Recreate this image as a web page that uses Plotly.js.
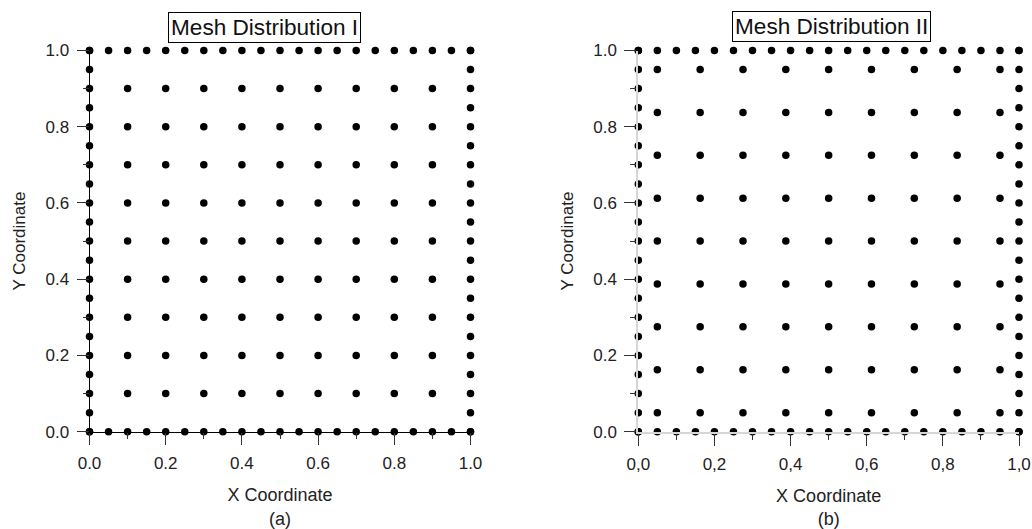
<!DOCTYPE html>
<html>
<head>
<meta charset="utf-8">
<script src="https://cdn.plot.ly/plotly-3.0.1.min.js"></script>
<style>html,body{margin:0;padding:0;background:#fff;}#chart{width:1032px;height:529px;}</style>
</head>
<body>
<div id="chart"></div>
<script>
// Boundary node coordinates (same on every side, both meshes)
const boundaryCoords = [0, 0.05, 0.1, 0.15, 0.2, 0.25, 0.3, 0.35, 0.4, 0.45, 0.5, 0.55, 0.6, 0.65, 0.7, 0.75, 0.8, 0.85, 0.9, 0.95, 1.0];
// Interior node coordinates, Mesh I
const interiorA = [0.1, 0.2, 0.3, 0.4, 0.5, 0.6, 0.7, 0.8, 0.9];
// Interior node coordinates, Mesh II
const interiorB = [0.05, 0.1625, 0.275, 0.3875, 0.5, 0.6125, 0.725, 0.8375, 0.95];
// Tick labels
const tickVals = [0, 0.2, 0.4, 0.6, 0.8, 1.0];
const minorTickVals = [0.1, 0.3, 0.5, 0.7, 0.9];
const tickTextDot = ['0.0', '0.2', '0.4', '0.6', '0.8', '1.0'];
const tickTextComma = ['0,0', '0,2', '0,4', '0,6', '0,8', '1,0'];
const titles = ['Mesh Distribution I', 'Mesh Distribution II'];
const xTitles = ['X Coordinate<br>(a)', 'X Coordinate<br>(b)'];
const yTitle = 'Y Coordinate';

function meshPoints(interior) {
  const xs = [], ys = [];
  boundaryCoords.forEach(v => {
    xs.push(v); ys.push(0);
    xs.push(v); ys.push(1);
    xs.push(0); ys.push(v);
    xs.push(1); ys.push(v);
  });
  interior.forEach(xv => interior.forEach(yv => { xs.push(xv); ys.push(yv); }));
  return {xs, ys};
}

const mA = meshPoints(interiorA);
const mB = meshPoints(interiorB);
const marker = {color: '#000', size: 7.5};
const data = [
  {type: 'scatter', mode: 'markers', x: mA.xs, y: mA.ys, xaxis: 'x', yaxis: 'y', marker, cliponaxis: false, hoverinfo: 'x+y'},
  {type: 'scatter', mode: 'markers', x: mB.xs, y: mB.ys, xaxis: 'x2', yaxis: 'y2', marker, cliponaxis: false, hoverinfo: 'x+y'}
];

const FONT = 'Arial, "Liberation Sans", sans-serif';
function axis(opts) {
  return Object.assign({
    range: [0, 1], showgrid: false, zeroline: false, showline: true,
    linecolor: '#000', linewidth: 1, ticks: 'outside', ticklen: 12, tickwidth: 1,
    tickcolor: '#333', tickvals: tickVals, ticktext: tickTextDot,
    tickfont: {family: FONT, size: 17, color: '#222'},
    ticklabelstandoff: 4,
    minor: {tickvals: minorTickVals, ticks: 'outside', ticklen: 6, tickwidth: 1, tickcolor: '#333', showgrid: false},
    fixedrange: true
  }, opts);
}

const yDom = [(529 - 431.7) / 529, (529 - 50.5) / 529];
const layout = {
  width: 1032, height: 529,
  margin: {l: 0, r: 0, t: 0, b: 0},
  paper_bgcolor: '#fff', plot_bgcolor: '#fff',
  showlegend: false,
  font: {family: FONT, color: '#222'},
  xaxis: axis({domain: [89.5 / 1032, 470.5 / 1032], anchor: 'y',
    title: {text: xTitles[0], font: {family: FONT, size: 18, color: '#222'}, standoff: 16}}),
  yaxis: axis({domain: yDom, anchor: 'x',
    title: {text: yTitle, font: {family: FONT, size: 17, color: '#222'}, standoff: 15}}),
  xaxis2: axis({domain: [638.3 / 1032, 1019 / 1032], anchor: 'y2', ticktext: tickTextComma,
    linecolor: '#d6d6d6', linewidth: 2,
    title: {text: xTitles[1], font: {family: FONT, size: 18, color: '#222'}, standoff: 16}}),
  yaxis2: axis({domain: yDom, anchor: 'x2', linecolor: '#d6d6d6', linewidth: 2,
    title: {text: yTitle, font: {family: FONT, size: 17, color: '#222'}, standoff: 15}}),
  annotations: [
    {text: titles[0], xref: 'paper', yref: 'paper', x: 264.5 / 1032, y: 1 - 27.5 / 529,
     xanchor: 'center', yanchor: 'middle', showarrow: false,
     font: {family: FONT, size: 22.6, color: '#111'}, bordercolor: '#000', borderwidth: 1, borderpad: 2, bgcolor: '#fff'},
    {text: titles[1], xref: 'paper', yref: 'paper', x: 831.5 / 1032, y: 1 - 26.5 / 529,
     xanchor: 'center', yanchor: 'middle', showarrow: false,
     font: {family: FONT, size: 22.6, color: '#111'}, bordercolor: '#000', borderwidth: 1, borderpad: 2, bgcolor: '#fff'}
  ]
};

Plotly.newPlot('chart', data, layout, {displayModeBar: false, staticPlot: true});
</script>
</body>
</html>
